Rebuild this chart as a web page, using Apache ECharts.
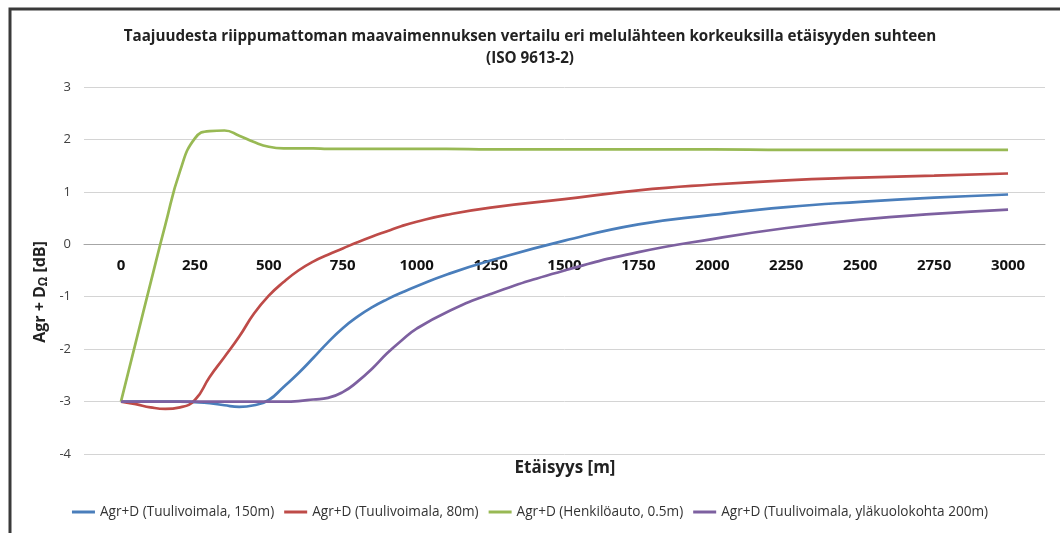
<!DOCTYPE html>
<html>
<head>
<meta charset="utf-8">
<script src="https://cdn.jsdelivr.net/npm/echarts@6/dist/echarts.min.js"></script>
<style>
  html, body { margin: 0; padding: 0; background: #fff; }
  #chart { width: 1060px; height: 533px; }
</style>
</head>
<body>
<div id="chart"></div>
<script>
// distances [m] and Agr + D values [dB]
const distances = [0, 50, 100, 150, 200, 250, 300, 350, 400, 450, 500, 550, 600, 650, 700,
  750, 800, 850, 900, 950, 1000, 1100, 1250, 1500, 1750, 2000, 2250, 2500, 2750, 3000];

const turbine150 = [-3, -3, -3, -3, -3, -3.01, -3.03, -3.07, -3.1, -3.07, -2.97, -2.72, -2.46, -2.17, -1.87,
  -1.6, -1.38, -1.2, -1.05, -0.92, -0.8, -0.58, -0.31, 0.07, 0.38, 0.56, 0.71, 0.81, 0.89, 0.95];

const turbine80 = [-3, -3.05, -3.11, -3.14, -3.11, -2.97, -2.53, -2.15, -1.76, -1.32, -0.98, -0.72, -0.5, -0.33, -0.2,
  -0.08, 0.04, 0.15, 0.25, 0.35, 0.43, 0.56, 0.7, 0.86, 1.03, 1.14, 1.22, 1.27, 1.31, 1.35];

const car05 = [-3, -1.87, -0.74, 0.37, 1.4, 2.02, 2.16, 2.17, 2.07, 1.95, 1.86, 1.83, 1.83, 1.83, 1.82,
  1.82, 1.82, 1.82, 1.82, 1.82, 1.82, 1.82, 1.81, 1.81, 1.81, 1.81, 1.80, 1.80, 1.80, 1.80];

const turbineTop200 = [-3, -3, -3, -3, -3, -3, -3, -3, -3, -3, -3, -3, -2.99, -2.96, -2.93,
  -2.82, -2.62, -2.37, -2.08, -1.83, -1.61, -1.3, -0.95, -0.5, -0.15, 0.1, 0.31, 0.47, 0.58, 0.66];

const xTicks = [0, 250, 500, 750, 1000, 1250, 1500, 1750, 2000, 2250, 2500, 2750, 3000];

const seriesNames = [
  'Agr+D (Tuulivoimala, 150m)',
  'Agr+D (Tuulivoimala, 80m)',
  'Agr+D (Henkilöauto, 0.5m)',
  'Agr+D (Tuulivoimala, yläkuolokohta 200m)'
];
const seriesValues = [turbine150, turbine80, car05, turbineTop200];
const colors = ['#4a7ebb', '#be4b48', '#98b954', '#7d60a0'];

const font = '"Open Sans", Lato, sans-serif';

let inst = echarts.init(document.getElementById('chart'));

let option = {
  animation: false,
  color: colors,
  textStyle: { fontFamily: font },
  title: {
    text: 'Taajuudesta riippumattoman maavaimennuksen vertailu eri melulähteen korkeuksilla etäisyyden suhteen\n(ISO 9613-2)',
    left: 'center',
    top: 21,
    textStyle: { fontSize: 15.2, fontWeight: 'bold', color: '#222', lineHeight: 22, fontFamily: font }
  },
  legend: {
    bottom: 9,
    left: 'center',
    icon: 'rect',
    itemWidth: 23,
    itemHeight: 3,
    itemGap: 10,
    textStyle: { fontSize: 13.6, color: '#333', fontFamily: font },
    data: seriesNames
  },
  grid: { left: 84, right: 15, top: 87, bottom: 79 },
  xAxis: {
    type: 'value',
    min: -125,
    max: 3125,
    position: 'bottom',
    offset: -210,
    axisLine: { onZero: false, lineStyle: { color: '#a6a6a6', width: 1 } },
    axisTick: { show: false },
    splitLine: { show: false },
    axisLabel: {
      customValues: xTicks,
      formatter: v => String(v),
      fontSize: 15,
      fontWeight: 'bold',
      color: '#111',
      margin: 14
    }
  },
  yAxis: {
    type: 'value',
    min: -4,
    max: 3,
    interval: 1,
    axisLine: { show: false },
    axisTick: { show: false },
    splitLine: { lineStyle: { color: '#d4d4d4', width: 1 } },
    axisLabel: { fontSize: 13, color: '#404040', margin: 13 }
  },
  graphic: [
    {
      type: 'rect',
      shape: { x: 10, y: 9, width: 1060, height: 540 },
      style: { fill: 'none', stroke: '#3a3a3a', lineWidth: 3 },
      silent: true
    },
    {
      type: 'text',
      x: 565, y: 468,
      style: {
        text: 'Etäisyys [m]', fill: '#222', font: 'bold 17px ' + font,
        textAlign: 'center', textVerticalAlign: 'middle'
      }
    },
    {
      type: 'text',
      x: 40, y: 292,
      rotation: Math.PI / 2,
      style: {
        text: 'Agr + D{sub|Ω} [dB]',
        fill: '#222', fontSize: 16, fontWeight: 'bold', fontFamily: font,
        textAlign: 'center', textVerticalAlign: 'middle',
        rich: {
          sub: { fontSize: 12, fontWeight: 'bold', fontFamily: font, fill: '#222', padding: [8, 0, 0, 0] }
        }
      }
    }
  ],
  series: seriesNames.map((name, i) => ({
    name: name,
    type: 'line',
    smooth: 0.5,
    showSymbol: false,
    lineStyle: { width: 2.7 },
    data: distances.map((d, j) => [d, seriesValues[i][j]])
  }))
};

inst.setOption(option);
</script>
</body>
</html>
